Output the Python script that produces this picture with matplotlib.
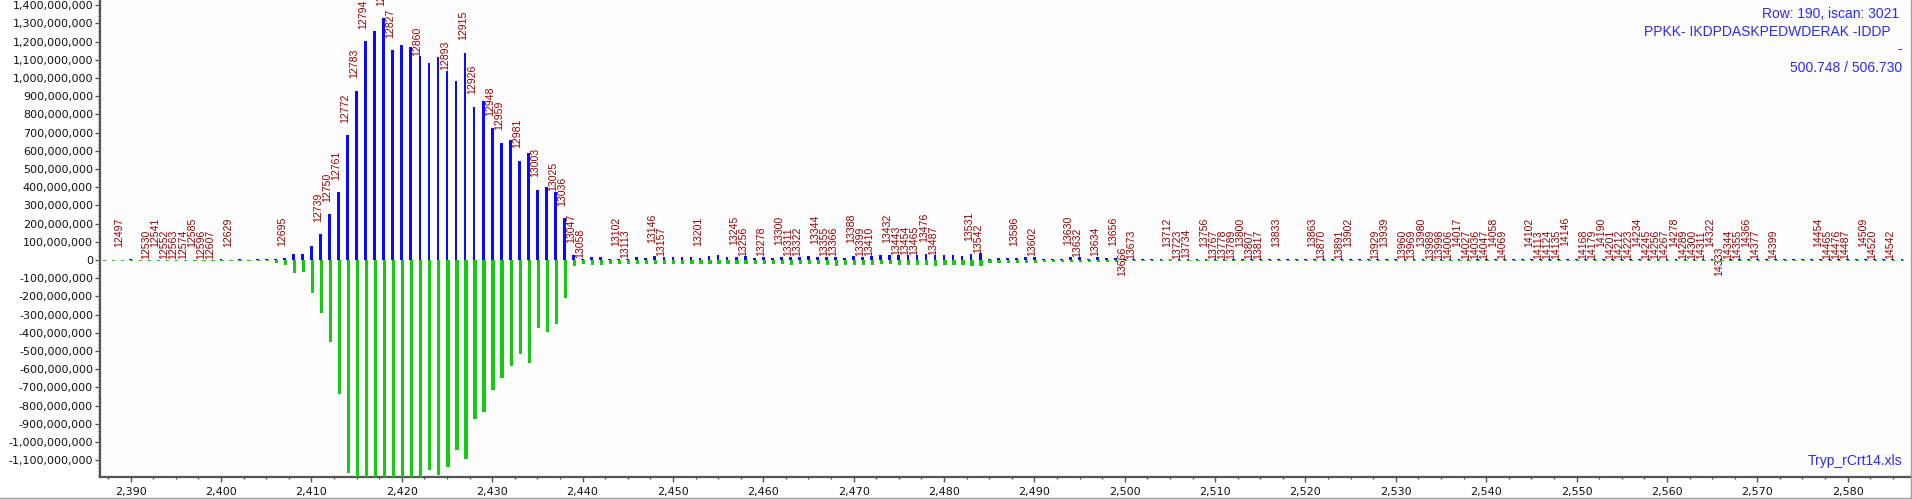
import numpy as np
import matplotlib
matplotlib.use("Agg")
import matplotlib.pyplot as plt
from matplotlib.ticker import MultipleLocator, FuncFormatter
from matplotlib.transforms import offset_copy
from matplotlib.lines import Line2D

# m/z positions, one bar pair per unit
mz = np.arange(2387, 2587)

# intensities in millions
blue_left = [2, 2, 2, 4, 2, 2, 2, 2, 2, 2, 2, 2, 2, 4, 2, 4, 2, 4, 3, 4]
blue_peak = [10, 33, 33, 77, 141, 251, 372, 686, 930, 1203, 1260, 1329, 1153, 1179,
             1172, 1120, 1080, 1118, 1040, 981, 1139, 842, 871, 724, 644, 660, 545,
             589, 385, 402, 376, 229, 26, 8, 16, 16]
blue_tail = [5, 8, 8, 16, 11, 22, 18, 16, 16, 15, 9, 22, 27, 18, 16, 22, 13, 18, 13, 16,
             18, 18, 22, 18, 18, 18, 9, 22, 18, 22, 26, 26, 26, 26, 27, 31, 26, 27, 26, 24,
             33, 37, 7, 11, 11, 9, 18, 18, 7, 5, 7, 15, 16, 5, 18]
blue_far = [9, 9, 5, 4, 4, 6, 4, 4, 4, 7, 4, 4, 4, 4, 4, 4, 4, 4, 4, 4,
            8, 4, 4, 4, 4, 4, 4, 4, 4, 4, 4, 4, 4, 4, 4, 4, 4, 4, 4, 4,
            4, 4, 4, 4, 4, 4, 4, 4, 4, 4, 4, 6, 4, 4, 4, 4, 4, 4, 4, 4,
            4, 4, 4, 4, 4, 4, 4, 4, 4, 4, 4, 4, 4, 4, 4, 4, 4, 4, 4, 4,
            4, 4, 4, 4, 4, 4, 4, 4, 4]

green_left = [-4, -4, -4, -4, -4, -4, -4, -4, -4, -4, -4, -4, -4, -4, -4, -4, -4, -4, -8, -15]
green_peak = [-27, -72, -66, -180, -290, -449, -735, -1168, -1230, -1300, -1350, -1320,
              -1290, -1280, -1250, -1220, -1155, -1182, -1138, -1045, -1094, -875, -836,
              -715, -647, -583, -515, -567, -374, -396, -352, -207, -31, -22, -25, -25]
green_tail = [-22, -22, -22, -24, -22, -24, -24, -22, -24, -24, -20, -24, -24, -22, -24,
              -24, -22, -22, -24, -24, -26, -24, -24, -24, -26, -31, -26, -26, -26, -26,
              -24, -24, -26, -29, -26, -26, -33, -29, -29, -26, -33, -33, -18, -16, -16,
              -18, -16, -16, -13, -11, -11, -13, -13, -13, -11]
green_far = [-9, -9, -7, -6, -6, -6, -6, -6, -6, -6, -6, -6, -6, -6, -6, -6, -6, -6, -6, -6,
             -6, -6, -6, -6, -6, -6, -6, -6, -6, -6, -6, -6, -6, -6, -6, -6, -6, -6, -6, -6,
             -6, -6, -6, -6, -6, -6, -6, -6, -6, -6, -6, -6, -6, -6, -6, -6, -6, -6, -6, -6,
             -6, -6, -6, -6, -6, -6, -6, -6, -6, -6, -6, -6, -6, -6, -6, -6, -6, -6, -6, -6,
             -6, -6, -6, -6, -6, -6, -6, -6, -6]

highlight_mz = [2505]
highlight_val = [6]

blue = np.array(blue_left + blue_peak + blue_tail + blue_far) * 1e6
green = np.array(green_left + green_peak + green_tail + green_far) * 1e6

# scan labels: position, text, level (H raised, L on bar, U hanging)
label_mz = [2389, 2392, 2393, 2394, 2395, 2396, 2397, 2398, 2399, 2401, 2407,
            2411, 2412, 2413, 2414, 2415, 2416, 2418, 2419, 2422, 2425, 2427, 2428,
            2430, 2431, 2433, 2435, 2437, 2438, 2439, 2440,
            2444, 2445, 2448, 2449, 2453, 2457, 2458, 2460, 2462, 2463, 2464, 2466,
            2467, 2468, 2470, 2471, 2472, 2474, 2475, 2476, 2477, 2478, 2479, 2483,
            2484, 2488, 2490, 2494, 2495, 2497,
            2499, 2500, 2501, 2505, 2506, 2507, 2509, 2510, 2511, 2512, 2513, 2514,
            2515, 2517, 2521, 2522, 2524, 2525, 2528, 2529, 2531, 2532, 2533, 2534,
            2535, 2536, 2537, 2538, 2539, 2540, 2541, 2542, 2545, 2546, 2547, 2548,
            2549, 2551, 2552, 2553, 2554, 2555, 2556, 2557, 2558, 2559, 2560, 2561,
            2562, 2563, 2564, 2565, 2566, 2567, 2568, 2569, 2570, 2572, 2577, 2578,
            2579, 2580, 2582, 2583, 2585]
label_txt = ['12497', '12530', '12541', '12552', '12563', '12574', '12585', '12596', '12607',
             '12629', '12695',
             '12739', '12750', '12761', '12772', '12783', '12794', '12816', '12827', '12860',
             '12893', '12915', '12926', '12948', '12959', '12981', '13003', '13025', '13036',
             '13047', '13058',
             '13102', '13113', '13146', '13157', '13201', '13245', '13256', '13278', '13300',
             '13311', '13322', '13344', '13355', '13366', '13388', '13399', '13410', '13432',
             '13443', '13454', '13465', '13476', '13487', '13531', '13542', '13586', '13602',
             '13630', '13632', '13634',
             '13656', '13666', '13673', '13712', '13723', '13734', '13756', '13767', '13778',
             '13789', '13800', '13807', '13817', '13833', '13863', '13870', '13891', '13902',
             '13929', '13939', '13960', '13969', '13980', '13989', '13998', '14006', '14017',
             '14027', '14036', '14047', '14058', '14069', '14102', '14113', '14124', '14135',
             '14146', '14168', '14179', '14190', '14201', '14212', '14223', '14234', '14245',
             '14256', '14267', '14278', '14289', '14300', '14311', '14322', '14333', '14344',
             '14355', '14366', '14377', '14399', '14454', '14465', '14476', '14487', '14509',
             '14520', '14542']
label_lvl = ['H', 'L', 'H', 'L', 'L', 'L', 'H', 'L', 'L', 'H', 'H',
             'H', 'H', 'H', 'H', 'H', 'H', 'H', 'H', 'L', 'L', 'H', 'H',
             'H', 'H', 'H', 'H', 'L', 'H', 'H', 'L',
             'H', 'L', 'H', 'L', 'H', 'H', 'L', 'L', 'H', 'L', 'L', 'H',
             'L', 'L', 'H', 'L', 'L', 'H', 'L', 'L', 'L', 'H', 'L', 'H',
             'L', 'H', 'L', 'H', 'L', 'L',
             'H', 'U', 'L', 'H', 'L', 'L', 'H', 'L', 'L', 'L', 'H', 'L',
             'L', 'H', 'H', 'L', 'L', 'H', 'L', 'H', 'L', 'L', 'H', 'L',
             'L', 'L', 'H', 'L', 'L', 'L', 'H', 'L', 'H', 'L', 'L', 'L',
             'H', 'L', 'L', 'H', 'L', 'L', 'L', 'H', 'L', 'L', 'L', 'H',
             'L', 'L', 'L', 'H', 'U', 'L', 'L', 'H', 'L', 'L', 'H', 'L',
             'L', 'L', 'H', 'L', 'L']

W, H = 1912, 499
fig = plt.figure(figsize=(W / 100, H / 100), dpi=100)
fig.patch.set_facecolor('white')
ax = fig.add_axes([100 / W, 22.3 / H, 1810 / W, 476.7 / H])
ax.set_facecolor('#fdfdfd')

ax.bar(mz, blue, width=0.3, color='#0a0aff', linewidth=0, zorder=2)
ax.bar(mz + 0.1, green, width=0.36, color='#11cc11', linewidth=0, zorder=3)
ax.bar(highlight_mz, np.array(highlight_val) * 1e6, width=0.36, color='#ff7f1e',
       linewidth=0, zorder=4)

ax.set_xlim(2386.6, 2586.9)
ax.set_ylim(-1.1907e9, 1.4286e9)

lbl_font = dict(family=['Liberation Sans', 'DejaVu Sans'], size=7.6, color='#990000')
tr_hi = offset_copy(ax.transData, fig=fig, x=-1.6, y=9.0, units='points')
tr_lo = offset_copy(ax.transData, fig=fig, x=-1.6, y=0.3, units='points')
tr_un = offset_copy(ax.transData, fig=fig, x=-1.6, y=9.0, units='points')
blue_at = dict(zip(mz.tolist(), blue))
for x, t, lv in zip(label_mz, label_txt, label_lvl):
    y = max(blue_at.get(x, 0), 0)
    if lv == 'H':
        ax.text(x, y, t, transform=tr_hi, rotation=90, ha='center', va='bottom',
                clip_on=True, zorder=5, **lbl_font)
    elif lv == 'L':
        ax.text(x, y, t, transform=tr_lo, rotation=90, ha='center', va='bottom',
                clip_on=True, zorder=5, **lbl_font)
    else:
        ax.text(x, y, t, transform=tr_un, rotation=90, ha='center', va='top',
                clip_on=True, zorder=5, **lbl_font)

# axes styling
for s in ['top', 'right']:
    ax.spines[s].set_visible(False)
for s in ['left', 'bottom']:
    ax.spines[s].set_color('#555555')
    ax.spines[s].set_linewidth(1.6)

ax.yaxis.set_major_locator(MultipleLocator(1e8))
ax.yaxis.set_minor_locator(MultipleLocator(2e7))
ax.xaxis.set_major_locator(MultipleLocator(10))
ax.xaxis.set_minor_locator(MultipleLocator(2.5))
ax.yaxis.set_major_formatter(FuncFormatter(lambda v, p: f'{v:,.0f}'))
ax.xaxis.set_major_formatter(FuncFormatter(lambda v, p: f'{v:,.0f}'))
ax.tick_params(axis='both', which='major', length=3.5, width=1, color='#555555',
               labelsize=8, labelcolor='#111111')
ax.tick_params(axis='y', which='major', pad=1.5)
ax.tick_params(axis='x', which='major', pad=4)
ax.tick_params(axis='both', which='minor', length=1.6, width=1, color='#555555')

# info text in the corner
info = dict(family=['Liberation Sans', 'DejaVu Sans'], size=10, color='#2a2aff')
fig.text(1899.5 / W, 1 - 14 / H, 'Row: 190, iscan: 3021', ha='right', va='center', **info)
fig.text(1891 / W, 1 - 32 / H, 'PPKK- IKDPDASKPEDWDERAK -IDDP', ha='right', va='center', **info)
fig.text(1902 / W, 1 - 49 / H, '-', ha='right', va='center', **info)
fig.text(1902 / W, 1 - 68 / H, '500.748 / 506.730', ha='right', va='center', **info)
fig.text(1902 / W, 1 - 461 / H, 'Tryp_rCrt14.xls', ha='right', va='center', **info)

# thin frame on right and bottom edge of the picture
fig.add_artist(Line2D([1910.5 / W, 1910.5 / W], [0, 1], color='#a0a0a0', lw=1))
fig.add_artist(Line2D([0, 1], [1.5 / H, 1.5 / H], color='#a0a0a0', lw=1))

fig.savefig('out.png', dpi=100)
